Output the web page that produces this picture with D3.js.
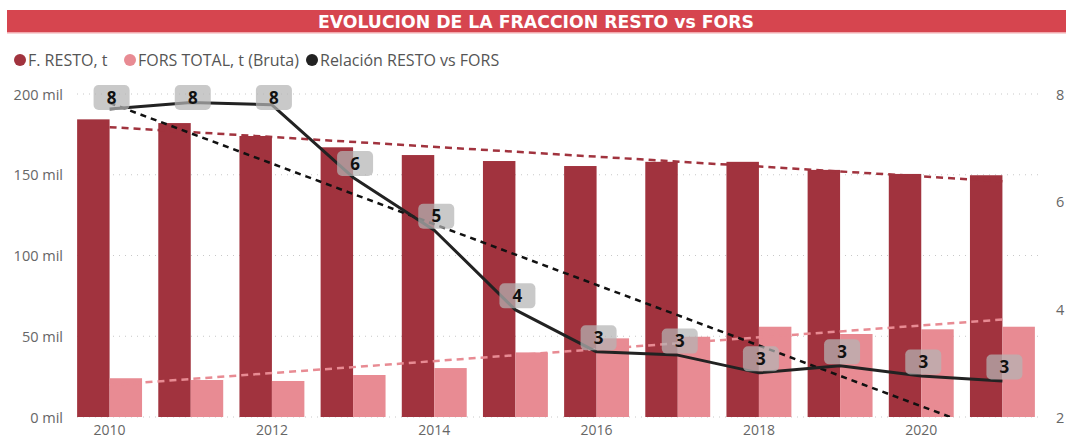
<!DOCTYPE html>
<html>
<head>
<meta charset="utf-8">
<script src="https://cdn.jsdelivr.net/npm/d3@7"></script>
<style>
  body { margin: 0; background: #fff; }
  text { font-family: "Open Sans", "Noto Sans", sans-serif; }
</style>
</head>
<body>
<svg id="chart"></svg>
<script>
var width = 1066,
    height = 439;

var years = ["2010","2011","2012","2013","2014","2015","2016","2017","2018","2019","2020","2021"];
var resto = [184300,182000,174000,167000,162200,158500,155400,158000,158000,153000,150500,149700];
var fors = [24000,22900,22300,26000,30300,40000,48700,49700,55900,51400,54300,55900];
var relacion = [7.72,7.84,7.80,6.45,5.47,3.99,3.21,3.15,2.82,2.95,2.76,2.67];
var leftTicks = [0,50000,100000,150000,200000];
var rightTicks = [2,4,6,8];
var seriesNames = ["F. RESTO, t","FORS TOTAL, t (Bruta)","Relación RESTO vs FORS"];

var darkRed = "#a1333e",
    pink = "#e88b93",
    lineColor = "#222";

var plotTop = 94, plotBottom = 417, plotLeft = 69, plotRight = 1043;

var svg = d3.select("#chart").attr("width", width).attr("height", height);

// title bar
svg.append("rect").attr("x", 7).attr("y", 10).attr("width", width - 7).attr("height", 23).attr("fill", "#d6454f");
svg.append("rect").attr("x", 7).attr("y", 32).attr("width", width - 7).attr("height", 1.5).attr("fill", "#f2a9ae");
svg.append("text")
  .attr("x", 536).attr("y", 27.5)
  .attr("text-anchor", "middle")
  .attr("fill", "#fff")
  .style("font-family", "'DejaVu Sans Condensed', 'DejaVu Sans', sans-serif")
  .style("font-weight", "bold")
  .style("font-size", "17px")
  .attr("textLength", 436)
  .attr("lengthAdjust", "spacingAndGlyphs")
  .text("EVOLUCION DE LA FRACCION RESTO vs FORS");

// legend
var legendColors = [darkRed, pink, "#222"];
var lx = [20, 130, 312];
seriesNames.forEach(function(name, i){
  svg.append("circle").attr("cx", lx[i]).attr("cy", 60).attr("r", 6).attr("fill", legendColors[i]);
  svg.append("text").attr("x", lx[i] + 8).attr("y", 65.5)
    .attr("fill", "#555").style("font-size", "16px").text(name);
});

var x = d3.scaleBand().domain(years).range([plotLeft, plotRight]).paddingInner(0.2).paddingOuter(0.1);
var x1 = d3.scaleBand().domain(["resto","fors"]).range([0, x.bandwidth()]);
var y = d3.scaleLinear().domain([0, 200000]).range([plotBottom, plotTop]);
var y2 = d3.scaleLinear().domain([2, 8]).range([plotBottom, plotTop]);

// gridlines
svg.append("g").selectAll("line").data(leftTicks).enter().append("line")
  .attr("x1", 77).attr("x2", 1041)
  .attr("y1", function(d){ return y(d); }).attr("y2", function(d){ return y(d); })
  .attr("stroke", "#c8c8c8").attr("stroke-width", 1).attr("stroke-dasharray", "1,5");

// left axis
var yAxis = d3.axisLeft(y).tickValues(leftTicks).tickSize(0).tickPadding(0)
  .tickFormat(function(d){ return (d / 1000) + " mil"; });
var gy = svg.append("g").attr("transform", "translate(63,0)").call(yAxis);
gy.select(".domain").remove();
gy.selectAll("text").attr("fill", "#666").style("font-size", "14.5px").attr("dy", "0.35em");

// right axis
var yAxis2 = d3.axisRight(y2).tickValues(rightTicks).tickSize(0).tickPadding(0).tickFormat(d3.format("d"));
var gy2 = svg.append("g").attr("transform", "translate(1056,0)").call(yAxis2);
gy2.select(".domain").remove();
gy2.selectAll("text").attr("fill", "#666").style("font-size", "14.5px").attr("dy", "0.35em");

// x axis
var xAxis = d3.axisBottom(x).tickValues(years.filter(function(d, i){ return i % 2 == 0; })).tickSize(0).tickPadding(0);
var gx = svg.append("g").attr("transform", "translate(0," + plotBottom + ")").call(xAxis);
gx.select(".domain").remove();
gx.selectAll("text").attr("fill", "#666").style("font-size", "14px").attr("dy", "1.25em");

// bars
var groups = svg.append("g").selectAll("g").data(years).enter().append("g")
  .attr("transform", function(d){ return "translate(" + x(d) + ",0)"; });
groups.append("rect")
  .attr("x", x1("resto")).attr("width", x1.bandwidth())
  .attr("y", function(d, i){ return y(resto[i]); })
  .attr("height", function(d, i){ return plotBottom - y(resto[i]); })
  .attr("fill", darkRed);
groups.append("rect")
  .attr("x", x1("fors")).attr("width", x1.bandwidth())
  .attr("y", function(d, i){ return y(fors[i]); })
  .attr("height", function(d, i){ return plotBottom - y(fors[i]); })
  .attr("fill", pink);

// linear trend lines (least squares over the series)
function trend(values){
  var n = values.length;
  var mx = (n - 1) / 2, my = d3.mean(values);
  var sxy = 0, sxx = 0;
  values.forEach(function(v, i){ sxy += (i - mx) * (v - my); sxx += (i - mx) * (i - mx); });
  var b = sxy / sxx;
  return [my - b * mx, my + b * (n - 1 - mx)];
}
function cx(i){ return x(years[i]) + x.bandwidth() / 2; }

svg.append("clipPath").attr("id", "plotClip").append("rect")
  .attr("x", plotLeft).attr("y", plotTop - 20).attr("width", plotRight - plotLeft).attr("height", plotBottom - plotTop + 20);

var tr = trend(resto), tf = trend(fors), tl = trend(relacion);
var trendG = svg.append("g").attr("clip-path", "url(#plotClip)");
trendG.append("line")
  .attr("x1", cx(0)).attr("y1", y(tr[0])).attr("x2", cx(11)).attr("y2", y(tr[1]))
  .attr("stroke", darkRed).attr("stroke-width", 2.5).attr("stroke-dasharray", "7,5");
trendG.append("line")
  .attr("x1", cx(0)).attr("y1", y(tf[0])).attr("x2", cx(11)).attr("y2", y(tf[1]))
  .attr("stroke", pink).attr("stroke-width", 2.5).attr("stroke-dasharray", "7,5");
trendG.append("line")
  .attr("x1", cx(0)).attr("y1", y2(tl[0])).attr("x2", cx(11)).attr("y2", y2(tl[1]))
  .attr("stroke", "#111").attr("stroke-width", 2.5).attr("stroke-dasharray", "6,5");

// ratio line
var line = d3.line()
  .x(function(d, i){ return cx(i); })
  .y(function(d){ return y2(d); });
svg.append("path").datum(relacion)
  .attr("d", line).attr("fill", "none")
  .attr("stroke", lineColor).attr("stroke-width", 3).attr("stroke-linejoin", "round");

// data labels
var labels = svg.append("g").selectAll("g").data(relacion).enter().append("g")
  .attr("transform", function(d, i){
    var ly = Math.max(y2(d) - 14, 97.5);
    return "translate(" + (cx(i) + 2) + "," + ly + ")";
  });
labels.append("rect")
  .attr("x", -18).attr("y", -12.5).attr("width", 36).attr("height", 25).attr("rx", 5)
  .attr("fill", "#b4b4b4").attr("fill-opacity", 0.72);
labels.append("text")
  .attr("text-anchor", "middle").attr("dy", "0.36em")
  .attr("fill", "#111").style("font-size", "17px").style("font-weight", "bold")
  .text(function(d){ return Math.round(d); });
</script>
</body>
</html>
